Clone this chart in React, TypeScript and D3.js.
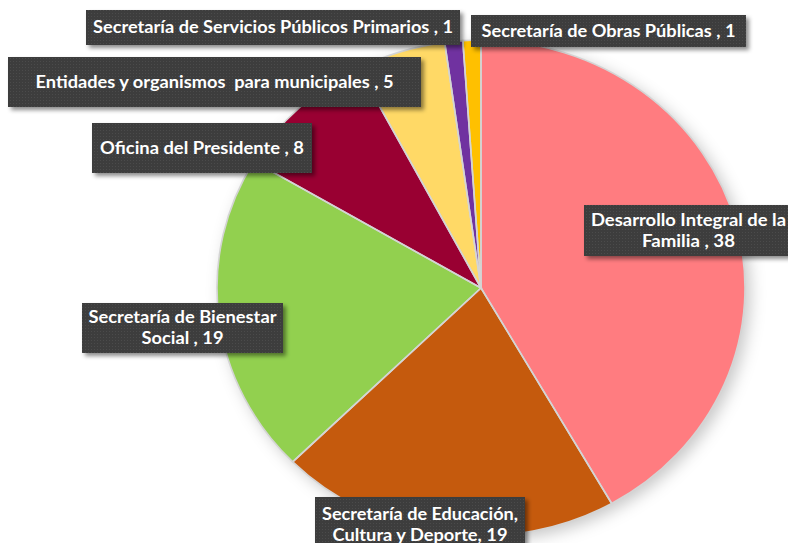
import React from "react";
import * as d3 from "d3";

const categories = [
  "Desarrollo Integral de la Familia",
  "Secretaría de Educación, Cultura y Deporte",
  "Secretaría de Bienestar Social",
  "Oficina del Presidente",
  "Entidades y organismos para municipales",
  "Secretaría de Servicios Públicos Primarios",
  "Secretaría de Obras Públicas",
];
const values = [38, 19, 19, 8, 5, 1, 1];
const colors = ["#FF7C80", "#C55A11", "#92D050", "#990033", "#FFD966", "#7030A0", "#FFC000"];

const labelLines = [
  ["Desarrollo Integral de la", "Familia , 38"],
  ["Secretaría de Educación,", "Cultura y Deporte, 19"],
  ["Secretaría de Bienestar", "Social , 19"],
  ["Oficina del Presidente , 8"],
  ["Entidades y organismos  para municipales , 5"],
  ["Secretaría de Servicios Públicos Primarios , 1"],
  ["Secretaría de Obras Públicas , 1"],
];
// label layout: box [x, y, w, h] and measured line widths
const labelBoxes = [
  [584, 205, 214, 51],
  [315, 497, 210, 56],
  [82, 303, 201, 50],
  [92, 123, 220, 50],
  [8, 57, 413, 50],
  [86, 10, 374, 35],
  [471, 15, 275, 32],
];
const lineWidths = [
  [195, 93],
  [196, 175],
  [188, 82],
  [204],
  [358],
  [360],
  [254],
];

const W = 788;
const H = 543;
const cx = 481;
const cy = 288;
const rx = 264;
const ry = 248;

export default function App() {
  const pie = d3.pie<number>().sort(null).value((d) => d).startAngle(0).endAngle(2 * Math.PI);
  const arcs = pie(values);
  const arc = d3.arc<d3.PieArcDatum<number>>().innerRadius(0).outerRadius(rx);

  return (
    <svg width={W} height={H} style={{ position: "absolute", left: 0, top: 0, background: "#fff" }}>
      <defs>
        <filter id="pieShadow" x="-20%" y="-20%" width="140%" height="140%">
          <feDropShadow dx="5" dy="5" stdDeviation="8" floodColor="#000" floodOpacity="0.22" />
        </filter>
        <filter id="boxShadow" x="-10%" y="-30%" width="120%" height="160%">
          <feDropShadow dx="3" dy="3" stdDeviation="2" floodColor="#000" floodOpacity="0.45" />
        </filter>
        <pattern id="dots" width="3" height="3" patternUnits="userSpaceOnUse">
          <rect width="3" height="3" fill="#3d3d3d" />
          <rect x="1" y="1" width="1" height="1" fill="#4c4c4c" />
        </pattern>
      </defs>
      <g transform={`translate(${cx},${cy}) scale(1,${ry / rx})`} filter="url(#pieShadow)">
        {arcs.map((a, i) => (
          <path key={categories[i]} d={arc(a) || ""} fill={colors[i]} />
        ))}
      </g>
      <g transform={`translate(${cx},${cy}) scale(1,${ry / rx})`}>
        {arcs.map((a, i) => (
          <path
            key={categories[i]}
            d={arc(a) || ""}
            fill="none"
            stroke="#d4d4d4"
            strokeWidth={1.6}
            vectorEffect="non-scaling-stroke"
          />
        ))}
      </g>
      {labelLines.map((lines, i) => {
        const [x, y, w, h] = labelBoxes[i];
        const lh = 21;
        const midY = y + h / 2;
        const startY = midY - ((lines.length - 1) * lh) / 2;
        return (
          <g key={categories[i] + "-label"}>
            <rect x={x} y={y} width={w} height={h} fill="url(#dots)" filter="url(#boxShadow)" />
            {lines.map((t, j) => {
              const tw = lineWidths[i][j];
              const tx = i === 0 ? x + 7 + (195 - tw) / 2 : x + w / 2 - tw / 2;
              return (
                <text
                  key={j}
                  x={tx}
                  y={startY + j * lh}
                  dy="0.36em"
                  textAnchor="start"
                  textLength={tw}
                  lengthAdjust="spacingAndGlyphs"
                  fill="#ffffff"
                  fontFamily="Lato, 'Open Sans', sans-serif"
                  fontWeight={700}
                  fontSize={16.5}
                  style={{ whiteSpace: "pre" }}
                >
                  {t}
                </text>
              );
            })}
          </g>
        );
      })}
    </svg>
  );
}
